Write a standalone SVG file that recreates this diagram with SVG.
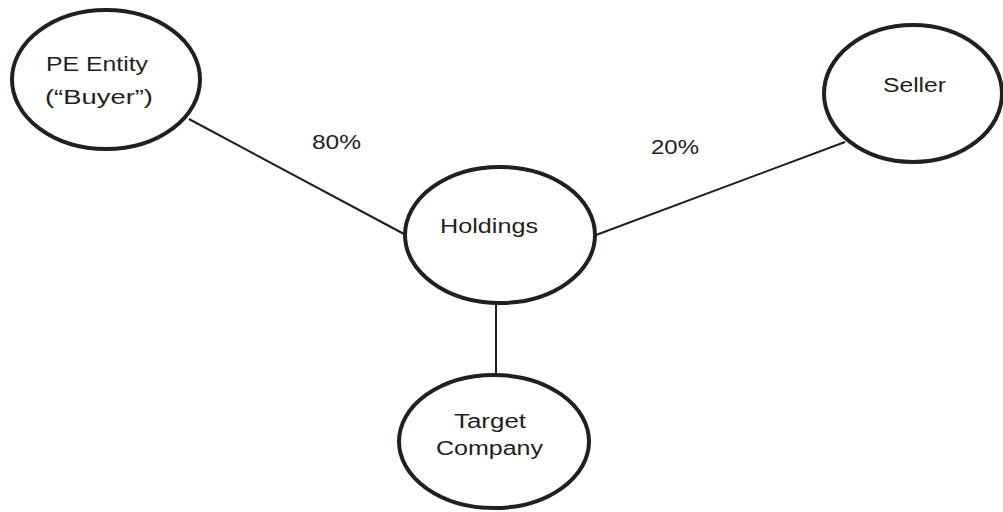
<svg xmlns="http://www.w3.org/2000/svg" width="1003" height="512" viewBox="0 0 1003 512">
<style>
.node{fill:#fff;stroke:#231f20;stroke-width:4}
.edge{stroke:#231f20;stroke-width:2;fill:none}
text{font-family:"Liberation Sans",Arial,sans-serif;font-size:19.5px;fill:#231f20}
</style>
<rect width="1003" height="512" fill="#fff"/>
<g id="connectors">
<line class="edge" x1="189" y1="119" x2="404" y2="234"/>
<line class="edge" x1="596" y1="235" x2="845" y2="142"/>
<line class="edge" x1="496" y1="303" x2="496" y2="376"/>
</g>
<g id="pe-entity">
<ellipse class="node" cx="106" cy="79.5" rx="94" ry="69.5"/>
<text x="46" y="71" textLength="102" lengthAdjust="spacingAndGlyphs">PE Entity</text>
<text x="45" y="104" textLength="108" lengthAdjust="spacingAndGlyphs">(“Buyer”)</text>
</g>
<g id="seller">
<ellipse class="node" cx="913" cy="93.5" rx="89" ry="68.5"/>
<text x="883" y="92" textLength="63" lengthAdjust="spacingAndGlyphs">Seller</text>
</g>
<g id="holdings">
<ellipse class="node" cx="500" cy="235" rx="95" ry="68"/>
<text x="440" y="233" textLength="98" lengthAdjust="spacingAndGlyphs">Holdings</text>
</g>
<g id="target-company">
<ellipse class="node" cx="494" cy="441.5" rx="95" ry="66.5"/>
<text x="454" y="428" textLength="72" lengthAdjust="spacingAndGlyphs">Target</text>
<text x="436" y="455" textLength="107" lengthAdjust="spacingAndGlyphs">Company</text>
</g>
<g id="labels">
<text x="312" y="149" textLength="49" lengthAdjust="spacingAndGlyphs">80%</text>
<text x="651" y="154" textLength="48" lengthAdjust="spacingAndGlyphs">20%</text>
</g>
</svg>
